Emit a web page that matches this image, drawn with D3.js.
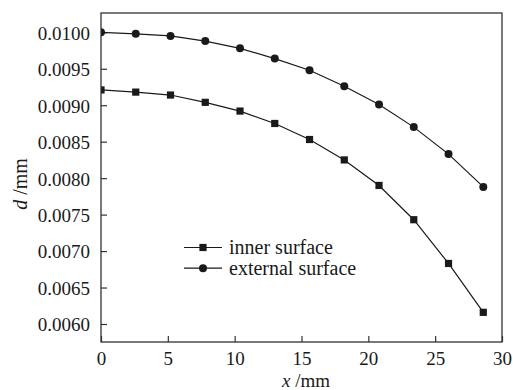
<!DOCTYPE html>
<html>
<head>
<meta charset="utf-8">
<script src="https://cdn.jsdelivr.net/npm/d3@7"></script>
<style>
  body { margin: 0; background: #fff; }
  svg { display: block; font-family: "Liberation Serif", "DejaVu Serif", serif; }
</style>
</head>
<body>
<svg id="chart" width="513" height="390"></svg>
<script>
// values
const xValues = [0, 2.6, 5.2, 7.8, 10.4, 13.0, 15.6, 18.2, 20.8, 23.4, 26.0, 28.6];
const innerSurface = [0.00921, 0.00918, 0.00914, 0.00904, 0.00892, 0.00875, 0.00853, 0.00825, 0.00790, 0.00743, 0.00683, 0.00616];
const externalSurface = [0.01000, 0.00998, 0.00995, 0.00988, 0.00978, 0.00964, 0.00948, 0.00926, 0.00901, 0.00870, 0.00833, 0.00788];
const xTicks = [0, 5, 10, 15, 20, 25, 30];
const yTicks = [0.0060, 0.0065, 0.0070, 0.0075, 0.0080, 0.0085, 0.0090, 0.0095, 0.0100];
const seriesNames = ['inner surface', 'external surface'];

const plotLeft = 101, plotRight = 502, plotTop = 13, plotBottom = 342;
const ink = '#1a1a1a';

const svg = d3.select('#chart');

const x = d3.scaleLinear().domain([0, 30]).range([plotLeft, plotRight]);
const y = d3.scaleLinear().domain([0.005753, 0.010265]).range([plotBottom, plotTop]);

// markers at x = 0 are cut by the frame in the original
svg.append('clipPath').attr('id', 'plot-clip')
  .append('rect')
  .attr('x', plotLeft).attr('y', plotTop)
  .attr('width', plotRight - plotLeft).attr('height', plotBottom - plotTop);

// axes with inward ticks
const xAxis = svg.append('g')
  .attr('transform', `translate(0,${plotBottom})`)
  .call(d3.axisBottom(x).tickValues(xTicks).tickSizeInner(-6).tickSizeOuter(0).tickPadding(10));
const yAxis = svg.append('g')
  .attr('transform', `translate(${plotLeft},0)`)
  .call(d3.axisLeft(y).tickValues(yTicks).tickFormat(d3.format('.4f')).tickSizeInner(-6).tickSizeOuter(0).tickPadding(11));

[xAxis, yAxis].forEach(g => {
  g.select('.domain').remove();
  g.selectAll('.tick line').attr('stroke', '#333').attr('stroke-width', 1.2);
  g.selectAll('.tick text').attr('fill', ink).style('font-size', '19px')
    .style('font-family', '"Liberation Serif", serif');
});
yAxis.selectAll('.tick text').attr('dy', '0.36em');

// axis titles
const xTitle = svg.append('text')
  .attr('x', 306).attr('y', 387)
  .attr('text-anchor', 'middle').attr('fill', ink).style('font-size', '19px');
xTitle.append('tspan').style('font-style', 'italic').text('x');
xTitle.append('tspan').text(' /mm');

const yTitle = svg.append('text')
  .attr('transform', 'translate(27,184) rotate(-90)')
  .attr('text-anchor', 'middle').attr('fill', ink).style('font-size', '20px');
yTitle.append('tspan').style('font-style', 'italic').text('d');
yTitle.append('tspan').text(' /mm');

// series
const plot = svg.append('g').attr('clip-path', 'url(#plot-clip)');
const line = d3.line().x(d => x(d[0])).y(d => y(d[1]));
const innerPts = xValues.map((v, i) => [v, innerSurface[i]]);
const extPts = xValues.map((v, i) => [v, externalSurface[i]]);

[innerPts, extPts].forEach(pts => {
  plot.append('path')
    .attr('d', line(pts))
    .attr('fill', 'none').attr('stroke', ink).attr('stroke-width', 1.2);
});

plot.append('g').selectAll('rect')
  .data(innerPts).join('rect')
  .attr('x', d => x(d[0]) - 3.6).attr('y', d => y(d[1]) - 3.6)
  .attr('width', 7.2).attr('height', 7.2).attr('fill', ink);

plot.append('g').selectAll('circle')
  .data(extPts).join('circle')
  .attr('cx', d => x(d[0])).attr('cy', d => y(d[1]))
  .attr('r', 4).attr('fill', ink);

// frame
svg.append('rect')
  .attr('x', plotLeft).attr('y', plotTop)
  .attr('width', plotRight - plotLeft).attr('height', plotBottom - plotTop)
  .attr('fill', 'none').attr('stroke', '#333').attr('stroke-width', 1.3);

// legend
const legend = svg.append('g');
seriesNames.forEach((name, i) => {
  const ly = 247.5 + i * 20.7;
  legend.append('line')
    .attr('x1', 184).attr('x2', 222).attr('y1', ly).attr('y2', ly)
    .attr('stroke', ink).attr('stroke-width', 1.2);
  if (i === 0) {
    legend.append('rect')
      .attr('x', 203 - 3.6).attr('y', ly - 3.6).attr('width', 7.2).attr('height', 7.2).attr('fill', ink);
  } else {
    legend.append('circle').attr('cx', 203).attr('cy', ly).attr('r', 4).attr('fill', ink);
  }
  legend.append('text')
    .attr('x', 229).attr('y', ly).attr('dy', '0.33em')
    .attr('fill', ink).style('font-size', '20px').text(name);
});
</script>
</body>
</html>
